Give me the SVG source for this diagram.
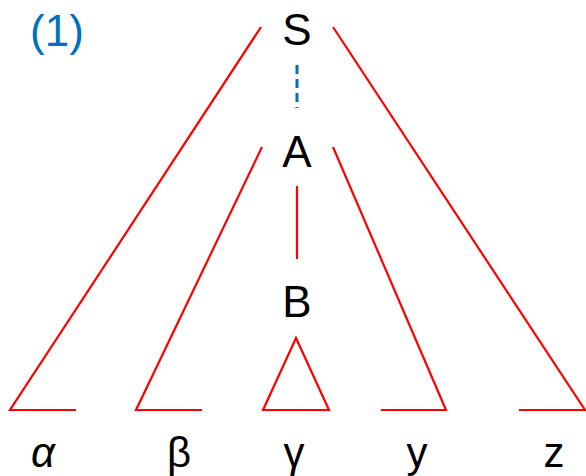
<svg xmlns="http://www.w3.org/2000/svg" width="586" height="476" viewBox="0 0 586 476">
<style>
.ln{stroke:#FF0000;stroke-width:2.2;fill:none;stroke-linecap:butt;stroke-linejoin:miter}
.lbl{font-family:"Liberation Sans",Arial,sans-serif;font-size:44px;fill:#000;text-anchor:middle}
.leaf{font-family:"Liberation Sans",Arial,sans-serif;font-size:42px;fill:#000;text-anchor:middle}
</style>
<rect width="586" height="476" fill="#fff"/>
<text x="57" y="46" style="font-family:'Liberation Sans',Arial,sans-serif;font-size:44px;fill:#0070C0" text-anchor="middle">(1)</text>
<g id="connectors">
<polyline class="ln" points="261,27 10,410 76,410"/>
<polyline class="ln" points="333,27 585,410 519,410"/>
<polyline class="ln" points="262,147 136,410 202,410"/>
<polyline class="ln" points="333,147 446,410 381,410"/>
<line class="ln" x1="297" y1="186" x2="297" y2="259"/>
<line x1="297" y1="65" x2="297" y2="108" stroke="#0070C0" stroke-width="3" stroke-dasharray="9,5"/>
</g>
<g id="S"><text class="lbl" x="297" y="45">S</text></g>
<g id="A"><text class="lbl" x="297" y="167">A</text></g>
<g id="B"><text class="lbl" x="297" y="317">B</text></g>
<g id="gamma-tri"><polygon class="ln" points="296,338 263,410 329,410"/></g>
<g id="alpha"><text class="leaf" x="43" y="467" font-style="italic">α</text></g>
<g id="beta"><text class="leaf" x="179" y="467">β</text></g>
<g id="gamma"><text class="leaf" x="294" y="467">γ</text></g>
<g id="y"><text class="leaf" x="417" y="467">y</text></g>
<g id="z"><text class="leaf" x="554" y="467">z</text></g>
</svg>
